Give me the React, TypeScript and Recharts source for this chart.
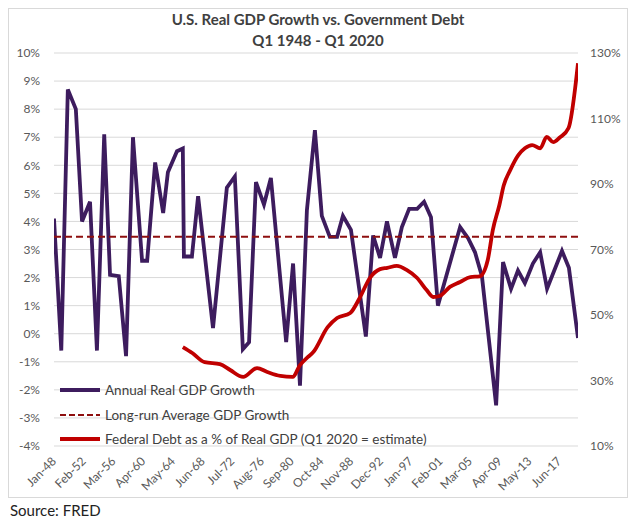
import { LineChart, Line, XAxis, YAxis, CartesianGrid, ReferenceLine } from "recharts";

const FONT = "Lato, 'Open Sans', sans-serif";
const PURPLE = "#3d1c5e";
const RED = "#c00000";
const MAROON = "#8e0f0f";

const TICK_LABELS = [
  "Jan-48", "Feb-52", "Mar-56", "Apr-60", "May-64", "Jun-68", "Jul-72", "Aug-76", "Sep-80",
  "Oct-84", "Nov-88", "Dec-92", "Jan-97", "Feb-01", "Mar-05", "Apr-09", "May-13", "Jun-17",
];

// annual real GDP growth, %
const GDP_YEARS = [
  1948.0, 1949.0, 1949.9, 1951.0, 1951.85, 1952.95, 1953.9, 1954.9, 1955.7, 1956.9, 1957.9,
  1958.85, 1960.1, 1960.8, 1961.9, 1963.0, 1963.65, 1964.9, 1965.7, 1965.85, 1966.95, 1967.8,
  1969.85, 1971.75, 1972.85, 1973.95, 1974.8, 1975.75, 1976.85, 1977.8, 1979.9, 1980.85,
  1981.8, 1982.75, 1983.85, 1984.8, 1985.9, 1986.9, 1987.7, 1988.8, 1990.85, 1991.85, 1992.8,
  1993.75, 1994.85, 1995.8, 1996.8, 1997.9, 1998.85, 1999.8, 2000.75, 2003.8, 2004.9, 2005.85,
  2006.8, 2008.75, 2009.7, 2010.8, 2011.75, 2012.7, 2013.8, 2014.8, 2015.75, 2017.8, 2018.75,
  2020.0,
];
const GDP_VALUES = [
  4.1, -0.6, 8.7, 8.0, 4.0, 4.7, -0.6, 7.1, 2.1, 2.05, -0.8,
  7.0, 2.6, 2.6, 6.1, 4.3, 5.75, 6.5, 6.6, 2.75, 2.75, 4.9,
  0.2, 5.2, 5.6, -0.55, -0.3, 5.4, 4.6, 5.55, -0.3, 2.5,
  -1.85, 4.4, 7.25, 4.2, 3.45, 3.45, 4.2, 3.7, -0.1, 3.5, 2.7,
  4.0, 2.7, 3.8, 4.45, 4.45, 4.7, 4.15, 1.0, 3.8, 3.4, 2.9,
  2.05, -2.55, 2.55, 1.6, 2.25, 1.8, 2.5, 2.9, 1.6, 2.95, 2.35,
  -0.15,
];

const AVG_GROWTH = 3.45;

// federal debt as % of real GDP
const DEBT_YEARS = [
  1965.7, 1967.0, 1968.7, 1970.8, 1972.2, 1974.0, 1975.9, 1977.3, 1979.1, 1980.8, 1981.8,
  1982.9, 1983.6, 1985.6, 1986.9, 1988.7, 1990.0, 1991.4, 1992.8, 1993.8, 1995.1, 1996.5,
  1997.9, 1999.2, 2000.1, 2001.0, 2002.4, 2003.8, 2005.2, 2006.5, 2007.6, 2008.3, 2009.2,
  2009.8, 2010.7, 2011.8, 2012.7, 2013.7, 2014.8, 2015.7, 2016.6, 2017.5, 2018.7, 2020.0,
];
const DEBT_VALUES = [
  40.2, 38.4, 35.6, 35.0, 33.2, 31.1, 33.8, 32.6, 31.4, 31.1, 34.7,
  37.2, 38.6, 46.3, 49.1, 50.6, 55.2, 61.3, 64.0, 64.4, 65.0, 63.7,
  61.3, 57.6, 55.5, 55.8, 58.6, 60.1, 61.6, 61.8, 66.8, 76.0, 83.6,
  89.6, 94.3, 98.8, 100.9, 101.9, 100.9, 104.4, 102.8, 104.2, 107.1, 126.9,
];

const LEFT_TICKS = [-4, -3, -2, -1, 0, 1, 2, 3, 4, 5, 6, 7, 8, 9, 10];
const RIGHT_TICKS = [10, 30, 50, 70, 90, 110, 130];

const gdpData = GDP_YEARS.map((year, i) => ({ year, value: GDP_VALUES[i] }));
const debtData = DEBT_YEARS.map((year, i) => ({ year, value: DEBT_VALUES[i] }));
const xTicks = TICK_LABELS.map((_, i) => 1948 + (i * 49) / 12);

function XTick({ x, y, payload }: any) {
  const idx = Math.round(((payload.value - 1948) * 12) / 49);
  return (
    <g transform={`translate(${x},${y + 5})`}>
      <text
        x={0}
        y={0}
        dy="0.35em"
        textAnchor="end"
        transform="rotate(-45)"
        fontSize={12}
        fill="#595959"
        fontFamily={FONT}
      >
        {TICK_LABELS[idx]}
      </text>
    </g>
  );
}

const legendItems = [
  { label: "Annual Real GDP Growth", color: PURPLE, dash: "" },
  { label: "Long-run Average GDP Growth", color: MAROON, dash: "6 3" },
  { label: "Federal Debt as a % of Real GDP (Q1 2020 = estimate)", color: RED, dash: "" },
];

export default function App() {
  const tick = { fontSize: 12, fill: "#595959", fontFamily: FONT };
  return (
    <div style={{ fontFamily: FONT }}>
      <div
        style={{
          position: "relative",
          width: 618,
          height: 488,
          border: "1px solid #d9d9d9",
          background: "#fff",
        }}
      >
        <LineChart width={618} height={488} margin={{ top: 44, right: 0, bottom: 0, left: 0 }}>
          <CartesianGrid yAxisId="left" vertical={false} stroke="#d9d9d9" strokeWidth={1} />
          <XAxis
            type="number"
            dataKey="year"
            domain={[1948, 2020]}
            ticks={xTicks}
            interval={0}
            height={51}
            axisLine={false}
            tickLine={false}
            tick={<XTick />}
            allowDataOverflow
          />
          <YAxis
            yAxisId="left"
            domain={[-4, 10]}
            ticks={LEFT_TICKS}
            interval={0}
            width={45}
            axisLine={false}
            tickLine={false}
            tickMargin={8}
            tick={tick}
            tickFormatter={(v) => `${v}%`}
          />
          <YAxis
            yAxisId="right"
            orientation="right"
            domain={[10, 130]}
            ticks={RIGHT_TICKS}
            interval={0}
            width={49}
            axisLine={false}
            tickLine={false}
            tickMargin={6}
            tick={tick}
            tickFormatter={(v) => `${v}%`}
          />
          <Line
            yAxisId="left"
            data={gdpData}
            dataKey="value"
            type="linear"
            stroke={PURPLE}
            strokeWidth={3.8}
            dot={false}
            isAnimationActive={false}
          />
          <Line
            yAxisId="right"
            data={debtData}
            dataKey="value"
            type="monotone"
            stroke={RED}
            strokeWidth={3.8}
            dot={false}
            isAnimationActive={false}
          />
          <ReferenceLine yAxisId="left" y={AVG_GROWTH} stroke={MAROON} strokeWidth={2} strokeDasharray="7 4" />
        </LineChart>

        <div
          style={{
            position: "absolute",
            top: 0,
            left: 0,
            width: 618,
            textAlign: "center",
            fontWeight: 700,
            fontSize: 15,
            lineHeight: "21px",
            color: "#404040",
          }}
        >
          <div>U.S. Real GDP Growth vs. Government Debt</div>
          <div>Q1 1948 - Q1 2020</div>
        </div>

        <div style={{ position: "absolute", left: 51, top: 369 }}>
          {legendItems.map((it) => (
            <div key={it.label} style={{ display: "flex", alignItems: "center", height: 24.5 }}>
              <svg width={42} height={8} style={{ marginRight: 3 }}>
                <line
                  x1={0}
                  y1={4}
                  x2={40}
                  y2={4}
                  stroke={it.color}
                  strokeWidth={it.dash ? 2 : 4}
                  strokeDasharray={it.dash || undefined}
                />
              </svg>
              <span style={{ fontSize: 13.5, color: "#404040" }}>{it.label}</span>
            </div>
          ))}
        </div>
      </div>
      <div style={{ fontSize: 15, color: "#222", marginTop: 3, marginLeft: 2 }}>Source: FRED</div>
    </div>
  );
}
